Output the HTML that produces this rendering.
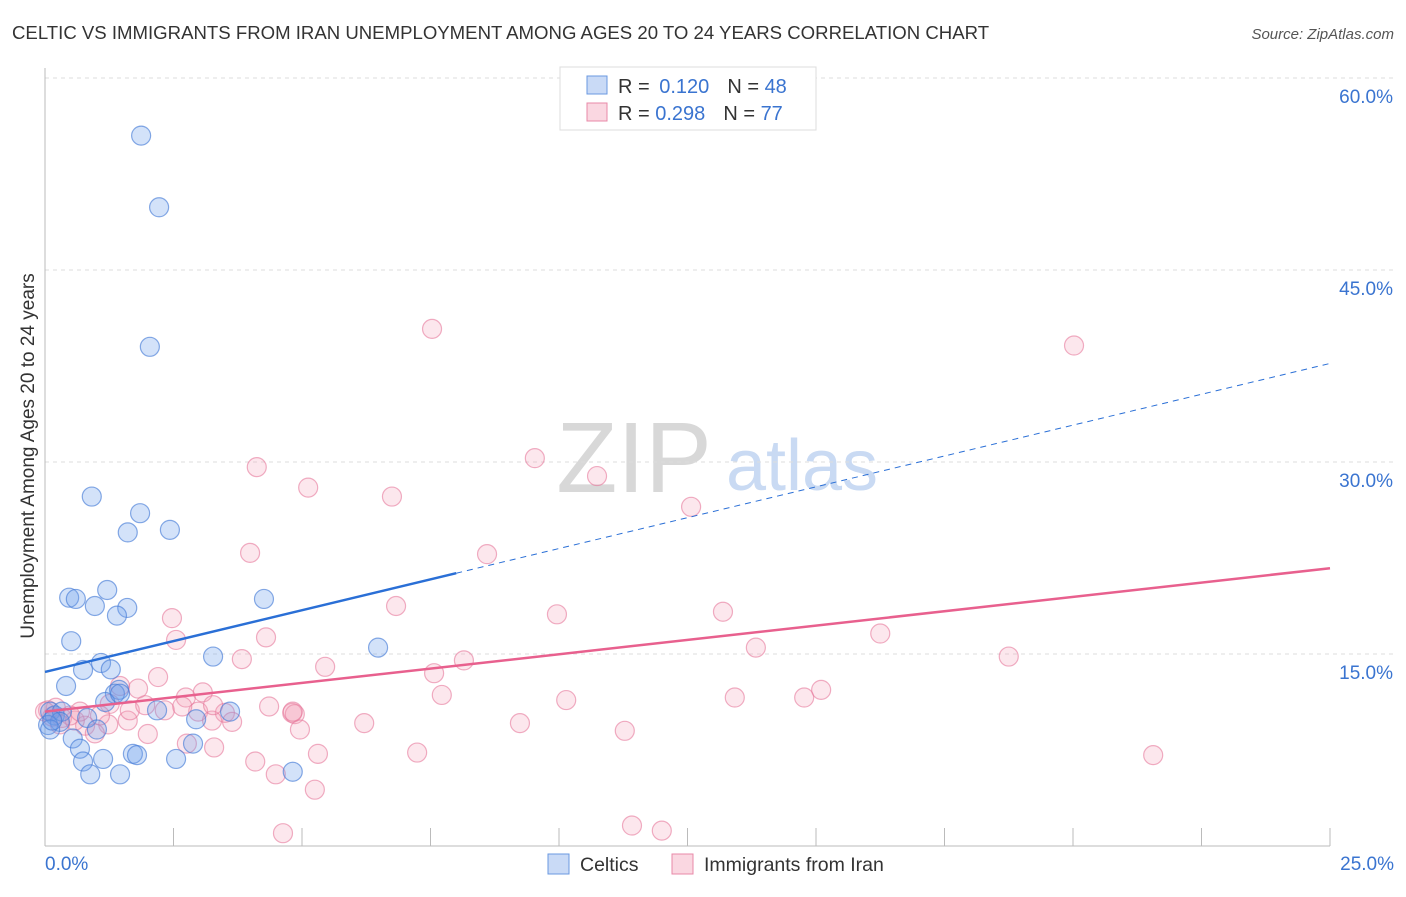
<!DOCTYPE html>
<html><head><meta charset="utf-8"><style>
body{margin:0;background:#fff;font-family:"Liberation Sans",sans-serif}
svg text{font-family:"Liberation Sans",sans-serif}
</style></head><body>
<svg id="c" width="1406" height="892">
<text x="12" y="39" font-size="18.6" fill="#333">CELTIC VS IMMIGRANTS FROM IRAN UNEMPLOYMENT AMONG AGES 20 TO 24 YEARS CORRELATION CHART</text>
<text x="1394" y="39" font-size="15" fill="#555" font-style="italic" text-anchor="end">Source: ZipAtlas.com</text>
<text transform="translate(34,456) rotate(-90)" font-size="19" fill="#333" text-anchor="middle">Unemployment Among Ages 20 to 24 years</text>
<g><text x="634" y="492" font-size="100" fill="#d8d8d8" font-family="Liberation Serif" text-anchor="middle">ZIP</text><text x="802" y="490" font-size="72" fill="#c9daf3" text-anchor="middle">atlas</text></g>
<g id="grid"></g><g id="pts"></g><g id="lines"></g>
<g>
<rect x="560" y="67" width="256" height="63" fill="#fff" stroke="#ddd"/>
<rect x="587" y="76" width="20" height="18" fill="rgba(100,150,230,0.35)" stroke="#6a98e0"/>
<rect x="587" y="103" width="20" height="18" fill="rgba(240,140,170,0.35)" stroke="#e88aa8"/>
<text x="618" y="93" font-size="20" fill="#333">R = <tspan fill="#3a74d0" dx="4">0.120</tspan><tspan dx="18">N = </tspan><tspan fill="#3a74d0">48</tspan></text>
<text x="618" y="120" font-size="20" fill="#333">R = <tspan fill="#3a74d0" dx="0">0.298</tspan><tspan dx="18">N = </tspan><tspan fill="#3a74d0">77</tspan></text>
</g>
<g>
<rect x="548" y="854" width="21" height="20" fill="rgba(100,150,230,0.35)" stroke="#6a98e0"/>
<text x="580" y="871" font-size="19.5" fill="#333">Celtics</text>
<rect x="672" y="854" width="21" height="20" fill="rgba(240,140,170,0.35)" stroke="#e88aa8"/>
<text x="704" y="871" font-size="19.5" fill="#333">Immigrants from Iran</text>
</g>
<text x="45" y="870" font-size="19" fill="#3a74d0">0.0%</text>
<text x="1394" y="870" font-size="19" fill="#3a74d0" text-anchor="end">25.0%</text>
</svg>
<script>
const yTicks=[15,30,45,60];
const yTickLabels=["15.0%","30.0%","45.0%","60.0%"];
const celticsX=[1.87,2.22,2.04,0.91,1.85,1.61,2.43,0.47,0.60,1.21,0.97,1.60,1.40,4.26,0.51,3.27,6.48,1.09,1.28,0.74,0.41,1.44,1.36,1.17,0.10,0.19,0.33,0.82,0.29,0.06,0.10,1.01,0.54,0.68,1.71,1.79,0.74,1.13,2.55,2.88,2.94,3.60,2.18,1.46,0.88,1.46,4.82,0.14];
const celticsY=[55.5,49.9,39.0,27.3,26.0,24.5,24.7,19.4,19.3,20.0,18.75,18.6,18.0,19.3,16.0,14.8,15.5,14.3,13.8,13.75,12.5,12.2,11.9,11.25,10.5,10.2,10.5,10.0,9.7,9.45,9.1,9.1,8.4,7.6,7.2,7.1,6.6,6.8,6.8,8.0,9.9,10.5,10.6,11.9,5.6,5.6,5.8,9.8];
const iranX=[7.53,20.02,4.12,9.53,5.12,6.75,10.74,12.57,3.99,8.60,6.83,9.96,13.19,2.47,2.55,4.30,16.25,13.83,18.75,3.83,5.45,2.20,7.57,8.15,15.10,1.81,2.74,3.07,7.72,10.14,13.42,14.77,1.46,2.33,4.36,2.98,3.50,3.25,3.64,4.81,4.86,4.96,6.21,9.24,1.61,1.23,0.78,0.14,0.06,0.33,0.58,0.97,2.00,2.76,3.29,5.31,7.24,4.09,4.49,5.25,11.28,21.56,4.63,11.42,12.00,1.26,1.07,1.65,0.49,0.21,2.67,1.95,0.0,0.68,3.27,4.82,0.29];
const iranY=[40.4,39.1,29.6,30.3,28.0,27.3,28.9,26.5,22.9,22.8,18.75,18.1,18.3,17.8,16.1,16.3,16.6,15.5,14.8,14.6,14.0,13.2,13.5,14.5,12.2,12.3,11.6,12.0,11.8,11.4,11.6,11.6,12.5,10.6,10.9,10.5,10.4,9.8,9.7,10.4,10.3,9.1,9.6,9.6,9.8,9.5,9.4,10.1,10.6,10.0,9.8,8.8,8.75,8.0,7.7,7.2,7.3,6.6,5.6,4.4,9.0,7.1,1.0,1.6,1.2,11.1,10.2,10.6,10.2,10.8,10.9,11.0,10.5,10.5,11.0,10.5,9.5];
const celticsTrend=[13.6,37.7];
const celticsSolidEnd=[8.0];
const iranTrend=[10.5,21.7];
const NS='http://www.w3.org/2000/svg';
const X=v=>45+v*51.4, Y=v=>846-v*12.8;
function mk(t,a,p){const e=document.createElementNS(NS,t);for(const k in a)e.setAttribute(k,a[k]);p.appendChild(e);return e;}
const grid=document.getElementById('grid');
yTicks.forEach((t,i)=>{
 const l=mk('line',{x1:45,x2:1394,y1:Y(t),y2:Y(t),stroke:'#ddd','stroke-dasharray':'4,4'},grid);
 
 
 const tx=mk('text',{x:1393,y:Y(t)+25,'font-size':19,fill:'#3a74d0','text-anchor':'end'},grid);
 tx.textContent=yTickLabels[i];
 
 
});
const ax=mk('line',{x1:45,x2:1330,y1:846,y2:846,stroke:'#bbb'},grid);


const ay=mk('line',{x1:45,x2:45,y1:68,y2:846,stroke:'#bbb'},grid);


for(let i=0;i<=10;i++){const tk=mk('line',{x1:X(i*2.5),x2:X(i*2.5),y1:828,y2:846,stroke:'#bbb'},grid);
 
 }
const pts=document.getElementById('pts');
iranX.forEach((x,i)=>{const c=mk('circle',{cx:X(x),cy:Y(iranY[i]),r:9.5,fill:'rgba(245,160,185,0.25)',stroke:'rgba(230,120,155,0.6)','stroke-width':1.2},pts);
 
 });
celticsX.forEach((x,i)=>{const c=mk('circle',{cx:X(x),cy:Y(celticsY[i]),r:9.5,fill:'rgba(110,160,235,0.3)',stroke:'rgba(70,125,215,0.65)','stroke-width':1.2},pts);
 
 });
const ln=document.getElementById('lines');
const cy=x=>celticsTrend[0]+(celticsTrend[1]-celticsTrend[0])*x/25;
const e=celticsSolidEnd[0];
const l1=mk('line',{x1:X(0),y1:Y(cy(0)),x2:X(e),y2:Y(cy(e)),stroke:'#2a6fd6','stroke-width':2.5},ln);


const l2=mk('line',{x1:X(e),y1:Y(cy(e)),x2:X(25),y2:Y(cy(25)),stroke:'#2a6fd6','stroke-width':1,'stroke-dasharray':'6,5'},ln);


const l3=mk('line',{x1:X(0),y1:Y(iranTrend[0]),x2:X(25),y2:Y(iranTrend[1]),stroke:'#e8608e','stroke-width':2.5},ln);


</script>
</body></html>
